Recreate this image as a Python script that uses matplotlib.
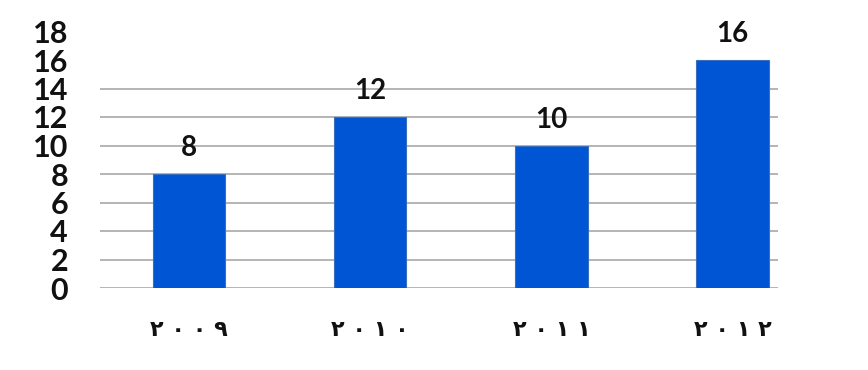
import matplotlib
matplotlib.use("Agg")
import matplotlib.pyplot as plt

categories = ["٢ ٠ ٠ ٩", "٢ ٠ ١ ٠", "٢ ٠ ١ ١", "٢ ٠ ١ ٢"]
values = [8, 12, 10, 16]
yticks = [0, 2, 4, 6, 8, 10, 12, 14, 16, 18]
grid_levels = [0, 2, 4, 6, 8, 10, 12, 14]

W, H = 868, 370
fig = plt.figure(figsize=(W / 100, H / 100), dpi=100)
left, right = 100, 778
bottom, top = 288, 31.5
ax = fig.add_axes([left / W, 1 - bottom / H, (right - left) / W, (bottom - top) / H])

x = list(range(len(categories)))
ax.set_xlim(-0.49, 3.25)
ax.set_ylim(0, 18)

for g in grid_levels:
    ax.axhline(g, color="#a8a8a8", lw=1.2, zorder=1)

ax.bar(x, values, width=0.4, color="#0055d4", edgecolor="#3a6fc0", lw=0.8, zorder=2)

for xi, v in zip(x, values):
    ax.text(xi, v + 0.9, str(v), ha="center", va="bottom", fontsize=20,
            fontweight="bold", family=["Lato", "DejaVu Sans"], color="#111111")

for s in ax.spines.values():
    s.set_visible(False)

ax.set_yticks(yticks)
ax.set_yticklabels([str(t) for t in yticks], fontsize=22, fontweight="bold",
                   family=["Lato", "DejaVu Sans"], color="#111111")
ax.tick_params(axis="y", length=0, pad=23)

ax.set_xticks(x)
ax.set_xticklabels(categories, fontsize=16, fontweight="bold",
                   family=["DejaVu Sans"], color="#111111")
ax.tick_params(axis="x", length=0, pad=23)

fig.savefig("out.png", dpi=100)
